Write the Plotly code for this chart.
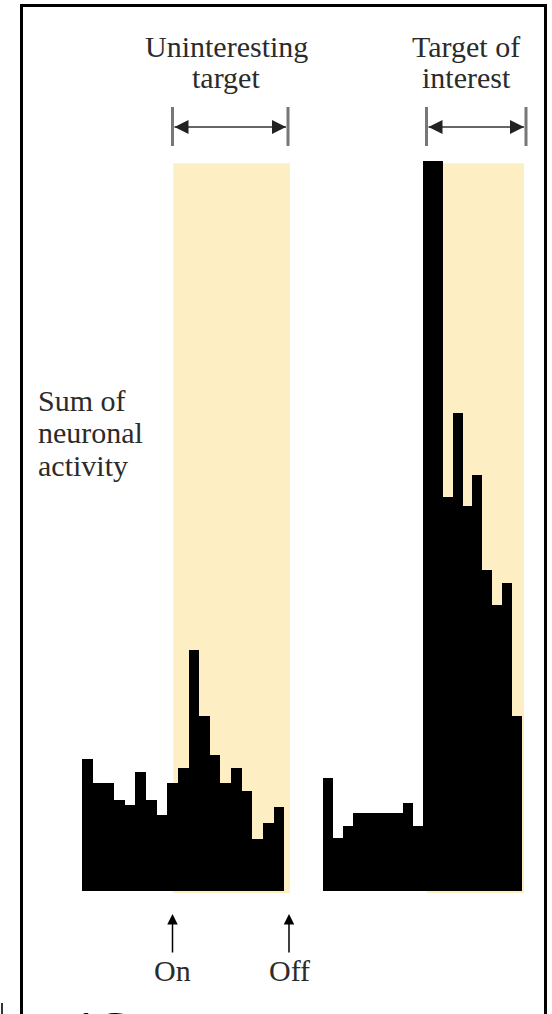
import numpy as np
import plotly.graph_objects as go

# ---- data: summed neuronal activity per time bin (relative units, peak = 100) ----
# left panel: uninteresting target, 19 bins; stimulus on at bin ~8.6, off at ~19.5
UNINTERESTING = [18.1, 14.8, 14.8, 12.5, 11.7, 16.3, 12.5, 10.4, 14.8, 16.9,
                 33.0, 23.9, 18.6, 14.8, 16.9, 13.7, 7.1, 9.3, 11.5]
UNINT_ON, UNINT_OFF = 8.6, 19.55

# right panel: target of interest, 20 bins
INTEREST = [15.5, 7.3, 8.9, 10.7, 10.7, 10.7, 10.7, 10.7, 12.1, 8.9,
            100.0, 100.0, 54.0, 65.5, 52.7, 57.0, 44.0, 39.2, 42.2, 23.9]
INTEREST_ON, INTEREST_OFF = 10.45, 20.2

TOP_LEFT = ["Uninteresting", "target"]
TOP_RIGHT = ["Target of", "interest"]
SIDE = ["Sum of", "neuronal", "activity"]

W, H = 552, 1014
SHADE = "#fdeec3"
FONT = "Liberation Serif"
TXT = "#2b2b2b"


def px(x):
    return x / W


def py(y):
    return 1 - y / H


# pixel geometry of the two histograms
L0, LBIN = 81.7, 10.65
R0, RBIN = 322.7, 9.965
BASE, UNIT = 891.0, 7.293   # baseline pixel row, pixels per activity unit
YR = [-0.3, 100.2]

fig = go.Figure()
fig.add_trace(go.Bar(x=np.arange(len(UNINTERESTING)) + 0.5, y=UNINTERESTING, width=1,
                     marker=dict(color="black", line=dict(width=0)),
                     xaxis="x", yaxis="y", hoverinfo="skip"))
fig.add_trace(go.Bar(x=np.arange(len(INTEREST)) + 0.5, y=INTEREST, width=1,
                     marker=dict(color="black", line=dict(width=0)),
                     xaxis="x2", yaxis="y2", hoverinfo="skip"))

lx_range = [0, 19.6]
rx_range = [0, 20.25]
ydom = [py(BASE - YR[0] * UNIT), py(BASE - YR[1] * UNIT)]
ax_common = dict(visible=False, fixedrange=True)
fig.update_layout(
    xaxis=dict(domain=[px(L0), px(L0 + lx_range[1] * LBIN)], range=lx_range, **ax_common),
    xaxis2=dict(domain=[px(R0), px(R0 + rx_range[1] * RBIN)], range=rx_range, **ax_common),
    yaxis=dict(domain=ydom, range=YR, anchor="x", **ax_common),
    yaxis2=dict(domain=ydom, range=YR, anchor="x2", **ax_common),
)

shapes = [
    dict(type="rect", xref="x", yref="y", x0=UNINT_ON, x1=UNINT_OFF, y0=-0.3, y1=99.8,
         fillcolor=SHADE, line=dict(width=0), layer="below"),
    dict(type="rect", xref="x2", yref="y2", x0=INTEREST_ON, x1=INTEREST_OFF, y0=-0.3, y1=99.8,
         fillcolor=SHADE, line=dict(width=0), layer="below"),
    # frame
    dict(type="line", xref="paper", yref="paper", x0=px(21.5), x1=px(21.5), y0=py(4), y1=py(1020),
         line=dict(color="black", width=3)),
    dict(type="line", xref="paper", yref="paper", x0=px(20), x1=px(547), y0=py(5.5), y1=py(5.5),
         line=dict(color="black", width=3)),
    dict(type="line", xref="paper", yref="paper", x0=px(545.5), x1=px(545.5), y0=py(4), y1=py(1020),
         line=dict(color="black", width=3)),
    # stray mark bottom left
    dict(type="line", xref="paper", yref="paper", x0=px(2), x1=px(2), y0=py(1003), y1=py(1016),
         line=dict(color="#333", width=2)),
]

annotations = []
# interval brackets above each panel
for xa, xb in ((172.5, 288), (426.5, 526)):
    for xv in (xa, xb):
        shapes.append(dict(type="line", xref="paper", yref="paper", x0=px(xv), x1=px(xv),
                           y0=py(107), y1=py(146), line=dict(color="#777", width=3)))
    shapes.append(dict(type="line", xref="paper", yref="paper", x0=px(xa + 2), x1=px(xb - 2),
                       y0=py(127), y1=py(127), line=dict(color="#666", width=2)))
    for tip, off in ((xa + 2, 14), (xb - 2, -14)):
        annotations.append(dict(x=px(tip), y=py(127), xref="paper", yref="paper",
                                ax=off, ay=0, text="", showarrow=True,
                                arrowhead=2, arrowsize=1.4, arrowwidth=2, arrowcolor="#222"))

# top labels
for lines, cx in ((TOP_LEFT, 226), (TOP_RIGHT, 466)):
    for i, t in enumerate(lines):
        annotations.append(dict(x=px(cx), y=py(46 + 32 * i), xref="paper", yref="paper",
                                text=t, showarrow=False, xanchor="center", yanchor="middle",
                                font=dict(family=FONT, size=30, color=TXT)))

# side label
for i, t in enumerate(SIDE):
    annotations.append(dict(x=px(36), y=py(400 + 32.5 * i), xref="paper", yref="paper",
                            text=t, showarrow=False, xanchor="left", yanchor="middle",
                            font=dict(family=FONT, size=30, color=TXT)))

# On / Off markers
for t, xv in (("On", 172.5), ("Off", 289)):
    annotations.append(dict(x=px(xv), y=py(914), xref="paper", yref="paper",
                            ax=0, ay=40, text="", showarrow=True, arrowhead=2,
                            arrowsize=1.4, arrowwidth=1.5, arrowcolor="black"))
    annotations.append(dict(x=px(xv), y=py(970), xref="paper", yref="paper",
                            text=t, showarrow=False, xanchor="center", yanchor="middle",
                            font=dict(family=FONT, size=30, color=TXT)))

# panel number, cut off at the bottom edge
annotations.append(dict(x=px(70), y=py(1000), xref="paper", yref="paper", text="<b>1C</b>",
                        showarrow=False, xanchor="left", yanchor="top",
                        font=dict(family=FONT, size=48, color="black")))

fig.update_layout(
    width=W, height=H,
    margin=dict(l=0, r=0, t=0, b=0),
    paper_bgcolor="white", plot_bgcolor="rgba(0,0,0,0)",
    showlegend=False, bargap=0,
    shapes=shapes, annotations=annotations,
)

# page body margin would shift the figure by 8px
fig.write_html("out.html", config={"displayModeBar": False},
               post_script="document.body.style.margin='0';")
